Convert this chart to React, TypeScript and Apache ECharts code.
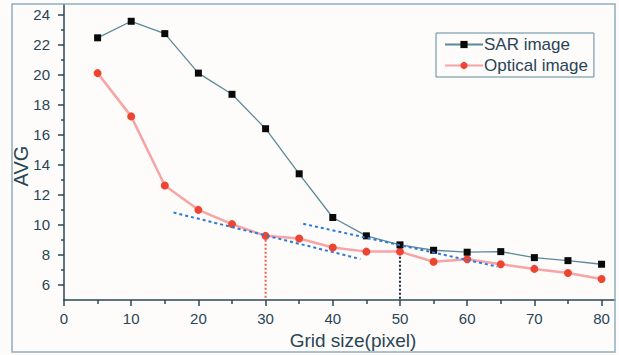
import React, { useEffect, useRef } from "react";
import * as echarts from "echarts";

const gridSizes = [5, 10, 15, 20, 25, 30, 35, 40, 45, 50, 55, 60, 65, 70, 75, 80];
const sarValues = [22.45, 23.55, 22.73, 20.1, 18.69, 16.4, 13.4, 10.49, 9.27, 8.67, 8.31, 8.18, 8.22, 7.82, 7.62, 7.38];
const opticalValues = [20.1, 17.22, 12.62, 11.0, 10.05, 9.27, 9.09, 8.49, 8.22, 8.22, 7.55, 7.71, 7.38, 7.07, 6.8, 6.4];
const trendLine1 = [[16.3, 10.82], [44.1, 7.73]];
const trendLine2 = [[35.6, 10.07], [64.5, 7.22]];
const redDrop = [[30, 9.27], [30, 5]];
const blackDrop = [[50, 8.67], [50, 5]];
const xMajorTicks = [0, 10, 20, 30, 40, 50, 60, 70, 80];
const xMinorTicks = [5, 15, 25, 35, 45, 55, 65, 75];
const yMajorTicks = [6, 8, 10, 12, 14, 16, 18, 20, 22, 24];
const yMinorTicks = [7, 9, 11, 13, 15, 17, 19, 21, 23];
const xAxisTitle = "Grid size(pixel)";
const yAxisTitle = "AVG";

const FONT = "'Liberation Sans', Arial, sans-serif";
const AXIS_COLOR = "#2c4858";
const TEXT_COLOR = "#294555";

export default function App() {
  const ref = useRef<HTMLDivElement>(null);
  useEffect(() => {
    if (!ref.current) return;
    const chart = echarts.init(ref.current, null, { renderer: "svg" });
    const xRange = { min: 0, max: 82 };
    const yRange = { min: 5, max: 24.7 };
    chart.setOption({
      animation: false,
      backgroundColor: "#fefbfb",
      textStyle: { fontFamily: FONT },
      grid: { left: 64, top: 4, right: 4, bottom: 55, containLabel: false, outerBoundsMode: "none" },
      graphic: [
        {
          type: "rect",
          shape: { x: 12, y: 4, width: 603, height: 348 },
          style: { fill: "none", stroke: "#8fb0c0", lineWidth: 1.5 },
          z: 100,
        },
        {
          type: "text",
          x: 353,
          y: 340,
          style: {
            text: xAxisTitle,
            fontSize: 19,
            fontFamily: FONT,
            fill: TEXT_COLOR,
            align: "center",
            verticalAlign: "middle",
          },
        },
        {
          type: "text",
          x: 21,
          y: 166,
          rotation: Math.PI / 2,
          style: {
            text: yAxisTitle,
            fontSize: 20,
            fontFamily: FONT,
            fill: TEXT_COLOR,
            align: "center",
            verticalAlign: "middle",
          },
        },
      ],
      legend: {
        orient: "vertical",
        left: 436,
        top: 33,
        width: 158,
        padding: [3, 6, 3, 8],
        itemGap: 4,
        itemWidth: 38,
        itemHeight: 9,
        borderColor: "#5a8a9a",
        borderWidth: 1,
        data: ["SAR image", "Optical image"],
        textStyle: { fontSize: 17, color: TEXT_COLOR, fontFamily: FONT, padding: [0, 0, 0, -4] },
      },
      xAxis: [
        {
          type: "value",
          ...xRange,
          position: "bottom",
          splitLine: { show: false },
          axisLine: { lineStyle: { color: AXIS_COLOR, width: 1.5 } },
          axisTick: { customValues: xMajorTicks, length: 6, lineStyle: { color: AXIS_COLOR, width: 1.5 } },
          axisLabel: { customValues: xMajorTicks, fontSize: 15, color: TEXT_COLOR, margin: 11, fontFamily: FONT },
        },
        {
          type: "value",
          ...xRange,
          position: "bottom",
          splitLine: { show: false },
          axisLine: { show: false },
          axisTick: { customValues: xMinorTicks, length: 4, lineStyle: { color: AXIS_COLOR, width: 1.5 } },
          axisLabel: { show: false },
        },
      ],
      yAxis: [
        {
          type: "value",
          ...yRange,
          position: "left",
          splitLine: { show: false },
          axisLine: { lineStyle: { color: AXIS_COLOR, width: 1.5 } },
          axisTick: { customValues: yMajorTicks, length: 6, lineStyle: { color: AXIS_COLOR, width: 1.5 } },
          axisLabel: { customValues: yMajorTicks, fontSize: 15, color: TEXT_COLOR, margin: 14, fontFamily: FONT },
        },
        {
          type: "value",
          ...yRange,
          position: "left",
          splitLine: { show: false },
          axisLine: { show: false },
          axisTick: { customValues: yMinorTicks, length: 3, lineStyle: { color: AXIS_COLOR, width: 1.5 } },
          axisLabel: { show: false },
        },
      ],
      series: [
        {
          name: "Optical image",
          type: "line",
          data: gridSizes.map((x, i) => [x, opticalValues[i]]),
          symbol: "circle",
          symbolSize: 8,
          itemStyle: { color: "#ee4432" },
          lineStyle: { color: "#f7a4a4", width: 2.5 },
          z: 3,
        },
        {
          name: "SAR image",
          type: "line",
          data: gridSizes.map((x, i) => [x, sarValues[i]]),
          symbol: "rect",
          symbolSize: 7,
          itemStyle: { color: "#0a0a0a" },
          lineStyle: { color: "#5a8a98", width: 1.3 },
          z: 4,
        },
        {
          name: "trend1",
          type: "line",
          data: trendLine1,
          symbol: "none",
          lineStyle: { color: "#2a7ad8", width: 2, type: [3, 3] },
          z: 5,
        },
        {
          name: "trend2",
          type: "line",
          data: trendLine2,
          symbol: "none",
          lineStyle: { color: "#2a7ad8", width: 2, type: [3, 3] },
          z: 5,
        },
        {
          name: "drop30",
          type: "line",
          data: redDrop,
          symbol: "none",
          lineStyle: { color: "#ec6050", width: 2, type: [2, 2] },
          z: 2,
        },
        {
          name: "drop50",
          type: "line",
          data: blackDrop,
          symbol: "none",
          lineStyle: { color: "#1a2a3a", width: 2, type: [2, 2] },
          z: 2,
        },
      ],
    });
    return () => chart.dispose();
  }, []);
  return (
    <div
      ref={ref}
      style={{ position: "fixed", left: 0, top: 0, width: 619, height: 355 }}
    />
  );
}
